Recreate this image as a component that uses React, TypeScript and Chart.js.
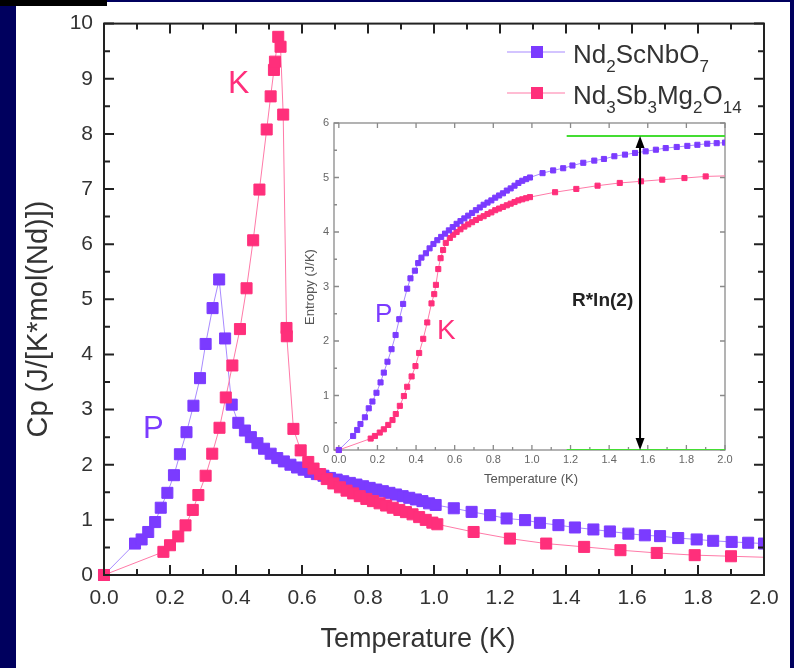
import React, { useEffect, useRef } from "react";
import { Chart, registerables } from "chart.js";

Chart.register(...registerables);

// ---------- palette & fonts ----------
const FONT = '"Liberation Sans", Arial, sans-serif';
const NAVY = "#00005e";
const PURPLE = "#7b3bff";
const PURPLE_LINE = "#a88aff";
const PINK = "#ff2f7b";
const PINK_LINE = "#ff7aa8";
const GREEN = "#44dd33";
const INK = "#333333";

// ---------- specific heat, Nd2ScNbO7 (P) ----------
const cpScTemp = [
  0, 0.094, 0.114, 0.134, 0.155, 0.172, 0.192, 0.212, 0.23, 0.25,
  0.271, 0.291, 0.308, 0.329, 0.349, 0.367, 0.387, 0.407,
  0.427, 0.445, 0.465, 0.485, 0.505, 0.525, 0.545, 0.565, 0.585, 0.605,
  0.625, 0.645, 0.665, 0.685, 0.705, 0.725, 0.745, 0.765, 0.785, 0.805,
  0.825, 0.845, 0.865, 0.885, 0.905, 0.925, 0.945, 0.965, 0.985, 1.005,
  1.06, 1.114, 1.17, 1.22, 1.276, 1.321, 1.377, 1.427, 1.483, 1.533,
  1.589, 1.639, 1.685, 1.74, 1.796, 1.846, 1.902, 1.952, 2.0,
];
const cpScValue = [
  0, 0.57, 0.645, 0.78, 0.96, 1.22, 1.49, 1.81, 2.19, 2.59,
  3.07, 3.57, 4.19, 4.84, 5.36, 4.29, 3.09, 2.76,
  2.62, 2.5, 2.39, 2.29, 2.2, 2.12, 2.06, 2.0, 1.95, 1.91,
  1.87, 1.83, 1.8, 1.76, 1.73, 1.7, 1.67, 1.64, 1.61, 1.58,
  1.55, 1.52, 1.49, 1.46, 1.43, 1.4, 1.37, 1.34, 1.3, 1.27,
  1.21, 1.145, 1.085, 1.025, 0.995, 0.946, 0.904, 0.862, 0.826, 0.79,
  0.75, 0.72, 0.705, 0.67, 0.645, 0.62, 0.6, 0.585, 0.57,
];

// ---------- specific heat, Nd3Sb3Mg2O14 (K) ----------
const cpSbTemp = [
  0, 0.18, 0.2, 0.225, 0.247, 0.269, 0.286, 0.308, 0.328, 0.35,
  0.369, 0.389, 0.412, 0.432, 0.452, 0.471, 0.493, 0.505, 0.515, 0.518,
  0.528, 0.535, 0.543, 0.553, 0.554, 0.574, 0.596, 0.619, 0.635, 0.655,
  0.675, 0.695, 0.715, 0.735, 0.755, 0.775, 0.795, 0.815, 0.835, 0.855,
  0.875, 0.895, 0.915, 0.935, 0.955, 0.975, 0.995, 1.01,
  1.12, 1.23, 1.34, 1.455, 1.565, 1.675, 1.79, 1.9, 2.01,
];
const cpSbValue = [
  0, 0.42, 0.54, 0.7, 0.9, 1.18, 1.45, 1.8, 2.2, 2.67,
  3.22, 3.8, 4.46, 5.2, 6.07, 6.99, 8.08, 8.68, 9.16, 9.31,
  9.76, 9.58, 8.35, 4.48, 4.33, 2.65, 2.26, 2.05, 1.93, 1.83,
  1.74, 1.66, 1.59, 1.53, 1.48, 1.43, 1.38, 1.34, 1.3, 1.26,
  1.22, 1.18, 1.14, 1.1, 1.05, 1.0, 0.95, 0.92,
  0.78, 0.66, 0.57, 0.51, 0.45, 0.4, 0.36, 0.34, 0.32,
];

// ---------- entropy, Nd2ScNbO7 (P) ----------
const sScTemp = [
  0, 0.074, 0.095, 0.112, 0.135, 0.155, 0.174, 0.195, 0.216, 0.233,
  0.252, 0.273, 0.294, 0.313, 0.333, 0.354, 0.371, 0.394, 0.411, 0.428,
  0.451, 0.47, 0.49, 0.51, 0.53, 0.55, 0.57, 0.59, 0.61, 0.63,
  0.65, 0.67, 0.69, 0.71, 0.73, 0.75, 0.77, 0.79, 0.81, 0.83,
  0.85, 0.87, 0.89, 0.91, 0.93, 0.95, 0.97, 0.99,
  1.055, 1.11, 1.162, 1.21, 1.266, 1.323, 1.373, 1.427, 1.482, 1.534,
  1.589, 1.642, 1.693, 1.75, 1.805, 1.857, 1.908, 1.957, 2.0,
];
const sScValue = [
  0, 0.257, 0.367, 0.477, 0.6, 0.765, 0.89, 1.05, 1.24, 1.42,
  1.62, 1.85, 2.11, 2.4, 2.68, 2.96, 3.15, 3.29, 3.43, 3.53,
  3.61, 3.7, 3.78, 3.85, 3.91, 3.97, 4.03, 4.09, 4.15, 4.2,
  4.25, 4.3, 4.35, 4.4, 4.45, 4.5, 4.54, 4.58, 4.63, 4.67,
  4.71, 4.76, 4.8, 4.85, 4.9, 4.94, 4.97, 5.0,
  5.08, 5.13, 5.17, 5.22, 5.27, 5.31, 5.34, 5.39, 5.42, 5.45,
  5.48, 5.51, 5.54, 5.56, 5.58, 5.6, 5.62, 5.63, 5.64,
];

// ---------- entropy, Nd3Sb3Mg2O14 (K) ----------
const sSbTemp = [
  0, 0.165, 0.187, 0.212, 0.233, 0.256, 0.278, 0.295, 0.316, 0.337,
  0.354, 0.377, 0.397, 0.416, 0.437, 0.458, 0.48, 0.494, 0.503, 0.515,
  0.527, 0.54, 0.554, 0.575, 0.592, 0.61, 0.63, 0.65, 0.67, 0.69,
  0.71, 0.73, 0.75, 0.77, 0.79, 0.81, 0.83, 0.85, 0.87, 0.89,
  0.91, 0.93, 0.95, 0.97, 0.99,
  1.12, 1.23, 1.34, 1.455, 1.565, 1.675, 1.79, 1.9, 2.01,
];
const sSbValue = [
  0, 0.21, 0.257, 0.32, 0.38, 0.46, 0.55, 0.66, 0.81, 0.99,
  1.16, 1.35, 1.54, 1.78, 2.04, 2.34, 2.69, 2.86, 3.03, 3.32,
  3.52, 3.67, 3.8, 3.89, 3.95, 4.0, 4.05, 4.1, 4.14, 4.18,
  4.22, 4.26, 4.29, 4.33, 4.36, 4.4, 4.43, 4.46, 4.49, 4.52,
  4.55, 4.58, 4.6, 4.62, 4.64,
  4.73, 4.79, 4.85, 4.9, 4.93, 4.96, 4.99, 5.02, 5.03,
];

// ---------- R ln 2 reference level ----------
const GAS_CONSTANT = 8.314;
const R_LN2 = GAS_CONSTANT * Math.log(2);
const RLN2_TEMP_FROM = 1.18;
const RLN2_TEMP_TO = 2.0;
const ARROW_TEMP = 1.56;

// ---------- ticks ----------
const MAIN_X_TICKS = [0, 0.2, 0.4, 0.6, 0.8, 1.0, 1.2, 1.4, 1.6, 1.8, 2.0];
const MAIN_X_MINOR = [0.1, 0.3, 0.5, 0.7, 0.9, 1.1, 1.3, 1.5, 1.7, 1.9];
const MAIN_Y_TICKS = [0, 1, 2, 3, 4, 5, 6, 7, 8, 9, 10];
const MAIN_Y_MINOR = [0.5, 1.5, 2.5, 3.5, 4.5, 5.5, 6.5, 7.5, 8.5, 9.5];
const INSET_X_TICKS = [0, 0.2, 0.4, 0.6, 0.8, 1.0, 1.2, 1.4, 1.6, 1.8, 2.0];
const INSET_X_MINOR = [0.1, 0.3, 0.5, 0.7, 0.9, 1.1, 1.3, 1.5, 1.7, 1.9];
const INSET_Y_TICKS = [0, 1, 2, 3, 4, 5, 6];
const INSET_Y_MINOR = [0.5, 1.5, 2.5, 3.5, 4.5, 5.5];

// ---------- legend ----------
type Part = [string, boolean];
const LEGEND: { parts: Part[]; color: string; line: string }[] = [
  { parts: [["Nd", false], ["2", true], ["ScNbO", false], ["7", true]], color: PURPLE, line: PURPLE_LINE },
  {
    parts: [["Nd", false], ["3", true], ["Sb", false], ["3", true], ["Mg", false], ["2", true], ["O", false], ["14", true]],
    color: PINK,
    line: PINK_LINE,
  },
];

const pts = (xs: number[], ys: number[]) => xs.map((x, i) => ({ x, y: ys[i] }));

type FrameStyle = {
  color: string;
  width: number;
  major: number;
  minor: number;
  xTicks: number[];
  xMinor: number[];
  yTicks: number[];
  yMinor: number[];
  mirrorMinor: boolean;
};

function drawFrame(chart: any, f: FrameStyle) {
  const { ctx, chartArea: a } = chart;
  const xs = chart.scales.x;
  const ys = chart.scales.y;
  ctx.save();
  ctx.strokeStyle = f.color;
  ctx.lineWidth = f.width;
  ctx.beginPath();
  const seg = (x1: number, y1: number, x2: number, y2: number) => {
    ctx.moveTo(x1, y1);
    ctx.lineTo(x2, y2);
  };
  const xTick = (v: number, len: number, mirror: boolean) => {
    const p = xs.getPixelForValue(v);
    seg(p, a.bottom, p, a.bottom - len);
    if (mirror) seg(p, a.top, p, a.top + len);
  };
  const yTick = (v: number, len: number, mirror: boolean) => {
    const p = ys.getPixelForValue(v);
    seg(a.left, p, a.left + len, p);
    if (mirror) seg(a.right, p, a.right - len, p);
  };
  f.xTicks.forEach((v) => xTick(v, f.major, true));
  f.xMinor.forEach((v) => xTick(v, f.minor, f.mirrorMinor));
  f.yTicks.forEach((v) => yTick(v, f.major, true));
  f.yMinor.forEach((v) => yTick(v, f.minor, f.mirrorMinor));
  ctx.stroke();
  ctx.strokeRect(a.left, a.top, a.right - a.left, a.bottom - a.top);
  ctx.restore();
}

function text(
  ctx: CanvasRenderingContext2D,
  s: string,
  x: number,
  y: number,
  font: string,
  color: string,
  align: CanvasTextAlign = "left",
  rotate = 0
) {
  ctx.save();
  ctx.font = font;
  ctx.fillStyle = color;
  ctx.textAlign = align;
  ctx.textBaseline = "alphabetic";
  ctx.translate(x, y);
  if (rotate) ctx.rotate(rotate);
  ctx.fillText(s, 0, 0);
  ctx.restore();
}

function formula(ctx: CanvasRenderingContext2D, parts: Part[], x: number, y: number, size: number, subSize: number, color: string) {
  ctx.save();
  ctx.fillStyle = color;
  ctx.textBaseline = "alphabetic";
  ctx.textAlign = "left";
  let cx = x;
  for (const [s, sub] of parts) {
    ctx.font = `${sub ? subSize : size}px ${FONT}`;
    ctx.fillText(s, cx, sub ? y + 9 : y);
    cx += ctx.measureText(s).width;
  }
  ctx.restore();
}

const mainDecor = {
  id: "mainDecor",
  afterDatasetsDraw(chart: any) {
    drawFrame(chart, {
      color: "#222",
      width: 2,
      major: 10,
      minor: 6,
      xTicks: MAIN_X_TICKS,
      xMinor: MAIN_X_MINOR,
      yTicks: MAIN_Y_TICKS,
      yMinor: MAIN_Y_MINOR,
      mirrorMinor: true,
    });
  },
  afterDraw(chart: any) {
    const ctx = chart.ctx as CanvasRenderingContext2D;
    text(ctx, "Temperature (K)", 418, 647, `27px ${FONT}`, INK, "center");
    text(ctx, "Cp (J/[K*mol(Nd)])", 47, 319, `29px ${FONT}`, INK, "center", -Math.PI / 2);
    text(ctx, "K", 228, 93, `32px ${FONT}`, PINK, "left");
    text(ctx, "P", 143, 438, `31px ${FONT}`, PURPLE, "left");

    const rows = [52, 93];
    LEGEND.forEach((item, i) => {
      const cy = rows[i];
      ctx.save();
      ctx.strokeStyle = item.line;
      ctx.lineWidth = 1.2;
      ctx.beginPath();
      ctx.moveTo(507, cy);
      ctx.lineTo(565, cy);
      ctx.stroke();
      ctx.fillStyle = item.color;
      ctx.fillRect(531, cy - 6, 12, 12);
      ctx.restore();
      formula(ctx, item.parts, 573, cy + 10.5, 26, 17, INK);
    });
  },
};

const insetDecor = {
  id: "insetDecor",
  beforeDatasetsDraw(chart: any) {
    drawFrame(chart, {
      color: "#8a8a8a",
      width: 1.3,
      major: 5,
      minor: 3,
      xTicks: INSET_X_TICKS,
      xMinor: INSET_X_MINOR,
      yTicks: INSET_Y_TICKS,
      yMinor: INSET_Y_MINOR,
      mirrorMinor: false,
    });
  },
  afterDraw(chart: any) {
    const ctx = chart.ctx as CanvasRenderingContext2D;
    const xs = chart.scales.x;
    const ys = chart.scales.y;
    // double-headed arrow spanning 0 .. R ln 2
    const ax = xs.getPixelForValue(ARROW_TEMP);
    const yTop = ys.getPixelForValue(R_LN2);
    const yBot = ys.getPixelForValue(0);
    ctx.save();
    ctx.strokeStyle = "#000";
    ctx.fillStyle = "#000";
    ctx.lineWidth = 2;
    ctx.beginPath();
    ctx.moveTo(ax, yTop + 10);
    ctx.lineTo(ax, yBot - 10);
    ctx.stroke();
    ctx.beginPath();
    ctx.moveTo(ax, yTop);
    ctx.lineTo(ax - 4.5, yTop + 12);
    ctx.lineTo(ax + 4.5, yTop + 12);
    ctx.closePath();
    ctx.fill();
    ctx.beginPath();
    ctx.moveTo(ax, yBot);
    ctx.lineTo(ax - 4.5, yBot - 12);
    ctx.lineTo(ax + 4.5, yBot - 12);
    ctx.closePath();
    ctx.fill();
    ctx.restore();

    const ox = -290;
    const oy = -100;
    text(ctx, "R*ln(2)", 572 + ox, 306 + oy, `bold 19px ${FONT}`, "#222", "left");
    text(ctx, "Temperature (K)", 531 + ox, 483 + oy, `13px ${FONT}`, "#555", "center");
    text(ctx, "Entropy (J/K)", 314 + ox, 287 + oy, `13px ${FONT}`, "#555", "center", -Math.PI / 2);
    text(ctx, "P", 375 + ox, 322 + oy, `26px ${FONT}`, PURPLE, "left");
    text(ctx, "K", 437 + ox, 339 + oy, `28px ${FONT}`, PINK, "left");
  },
};

function series(data: { x: number; y: number }[], marker: string, line: string, radius: number, order: number) {
  return {
    data,
    borderColor: line,
    borderWidth: 1,
    backgroundColor: marker,
    pointBackgroundColor: marker,
    pointBorderColor: marker,
    pointBorderWidth: 1,
    pointStyle: "rect" as const,
    pointRadius: (c: any) => (c.raw && c.raw.x > 2 ? 0 : radius),
    pointHoverRadius: radius,
    tension: 0,
    order,
    clip: { left: 12, top: 12, bottom: 12, right: 0 },
  };
}

function axisTicks(values: number[], digits: number, size: number, color: string, padding: number) {
  return {
    afterBuildTicks: (s: any) => {
      s.ticks = values.map((value) => ({ value }));
    },
    grid: { display: false, drawTicks: false },
    border: { display: false },
    ticks: {
      padding,
      color,
      autoSkip: false,
      maxRotation: 0,
      font: { family: FONT, size },
      callback: (v: any) => Number(v).toFixed(digits),
    },
  };
}

export default function App() {
  const mainRef = useRef<HTMLCanvasElement>(null);
  const insetRef = useRef<HTMLCanvasElement>(null);

  useEffect(() => {
    const main = new Chart(mainRef.current as HTMLCanvasElement, {
      type: "line",
      data: {
        datasets: [
          { label: "Nd3Sb3Mg2O14", ...series(pts(cpSbTemp, cpSbValue), PINK, PINK_LINE, 7.8, 0) },
          { label: "Nd2ScNbO7", ...series(pts(cpScTemp, cpScValue), PURPLE, PURPLE_LINE, 7.8, 1) },
        ] as any,
      },
      options: {
        animation: false,
        responsive: false,
        events: [],
        layout: { padding: { left: 0, top: 22, right: 30, bottom: 0 } },
        scales: {
          x: {
            type: "linear",
            min: 0,
            max: 2,
            ...axisTicks(MAIN_X_TICKS, 1, 21, INK, 11),
            afterFit: (s: any) => {
              s.height = 93;
            },
          } as any,
          y: {
            type: "linear",
            min: 0,
            max: 10,
            ...axisTicks(MAIN_Y_TICKS, 0, 21, INK, 11),
            afterFit: (s: any) => {
              s.width = 104;
            },
          } as any,
        },
        plugins: { legend: { display: false }, tooltip: { enabled: false } },
      },
      plugins: [mainDecor],
    });

    const inset = new Chart(insetRef.current as HTMLCanvasElement, {
      type: "line",
      data: {
        datasets: [
          {
            label: "R ln 2",
            data: [
              { x: RLN2_TEMP_FROM, y: R_LN2 },
              { x: RLN2_TEMP_TO, y: R_LN2 },
            ],
            borderColor: GREEN,
            borderWidth: 2,
            pointRadius: 0,
            order: 2,
          },
          {
            label: "zero",
            data: [
              { x: RLN2_TEMP_FROM, y: 0 },
              { x: RLN2_TEMP_TO, y: 0 },
            ],
            borderColor: GREEN,
            borderWidth: 2,
            pointRadius: 0,
            order: 2,
          },
          { label: "Nd2ScNbO7", ...series(pts(sScTemp, sScValue), PURPLE, PURPLE_LINE, 3.6, 0) },
          { label: "Nd3Sb3Mg2O14", ...series(pts(sSbTemp, sSbValue), PINK, PINK_LINE, 3.6, 1) },
        ] as any,
      },
      options: {
        animation: false,
        responsive: false,
        events: [],
        layout: { padding: { left: 0, top: 23, right: 25, bottom: 0 } },
        scales: {
          x: {
            type: "linear",
            min: -0.025,
            max: 2,
            ...axisTicks(INSET_X_TICKS, 1, 11, "#666", 3),
            afterFit: (s: any) => {
              s.height = 50;
            },
          } as any,
          y: {
            type: "linear",
            min: 0,
            max: 6,
            ...axisTicks(INSET_Y_TICKS, 0, 11, "#666", 5),
            afterFit: (s: any) => {
              s.width = 44;
            },
          } as any,
        },
        plugins: { legend: { display: false }, tooltip: { enabled: false } },
      },
      plugins: [insetDecor],
    });

    return () => {
      main.destroy();
      inset.destroy();
    };
  }, []);

  return (
    <div
      style={{
        position: "fixed",
        left: 0,
        top: 0,
        width: 794,
        height: 668,
        background: NAVY,
        overflow: "hidden",
      }}
    >
      <div style={{ position: "absolute", left: 16, top: 2, width: 774, height: 666, background: "#ffffff" }} />
      <div style={{ position: "absolute", left: 0, top: 0, width: 107, height: 6, background: "#000000" }} />
      <canvas ref={mainRef} width={794} height={668} style={{ position: "absolute", left: 0, top: 0 }} />
      <canvas ref={insetRef} width={460} height={400} style={{ position: "absolute", left: 290, top: 100 }} />
    </div>
  );
}
